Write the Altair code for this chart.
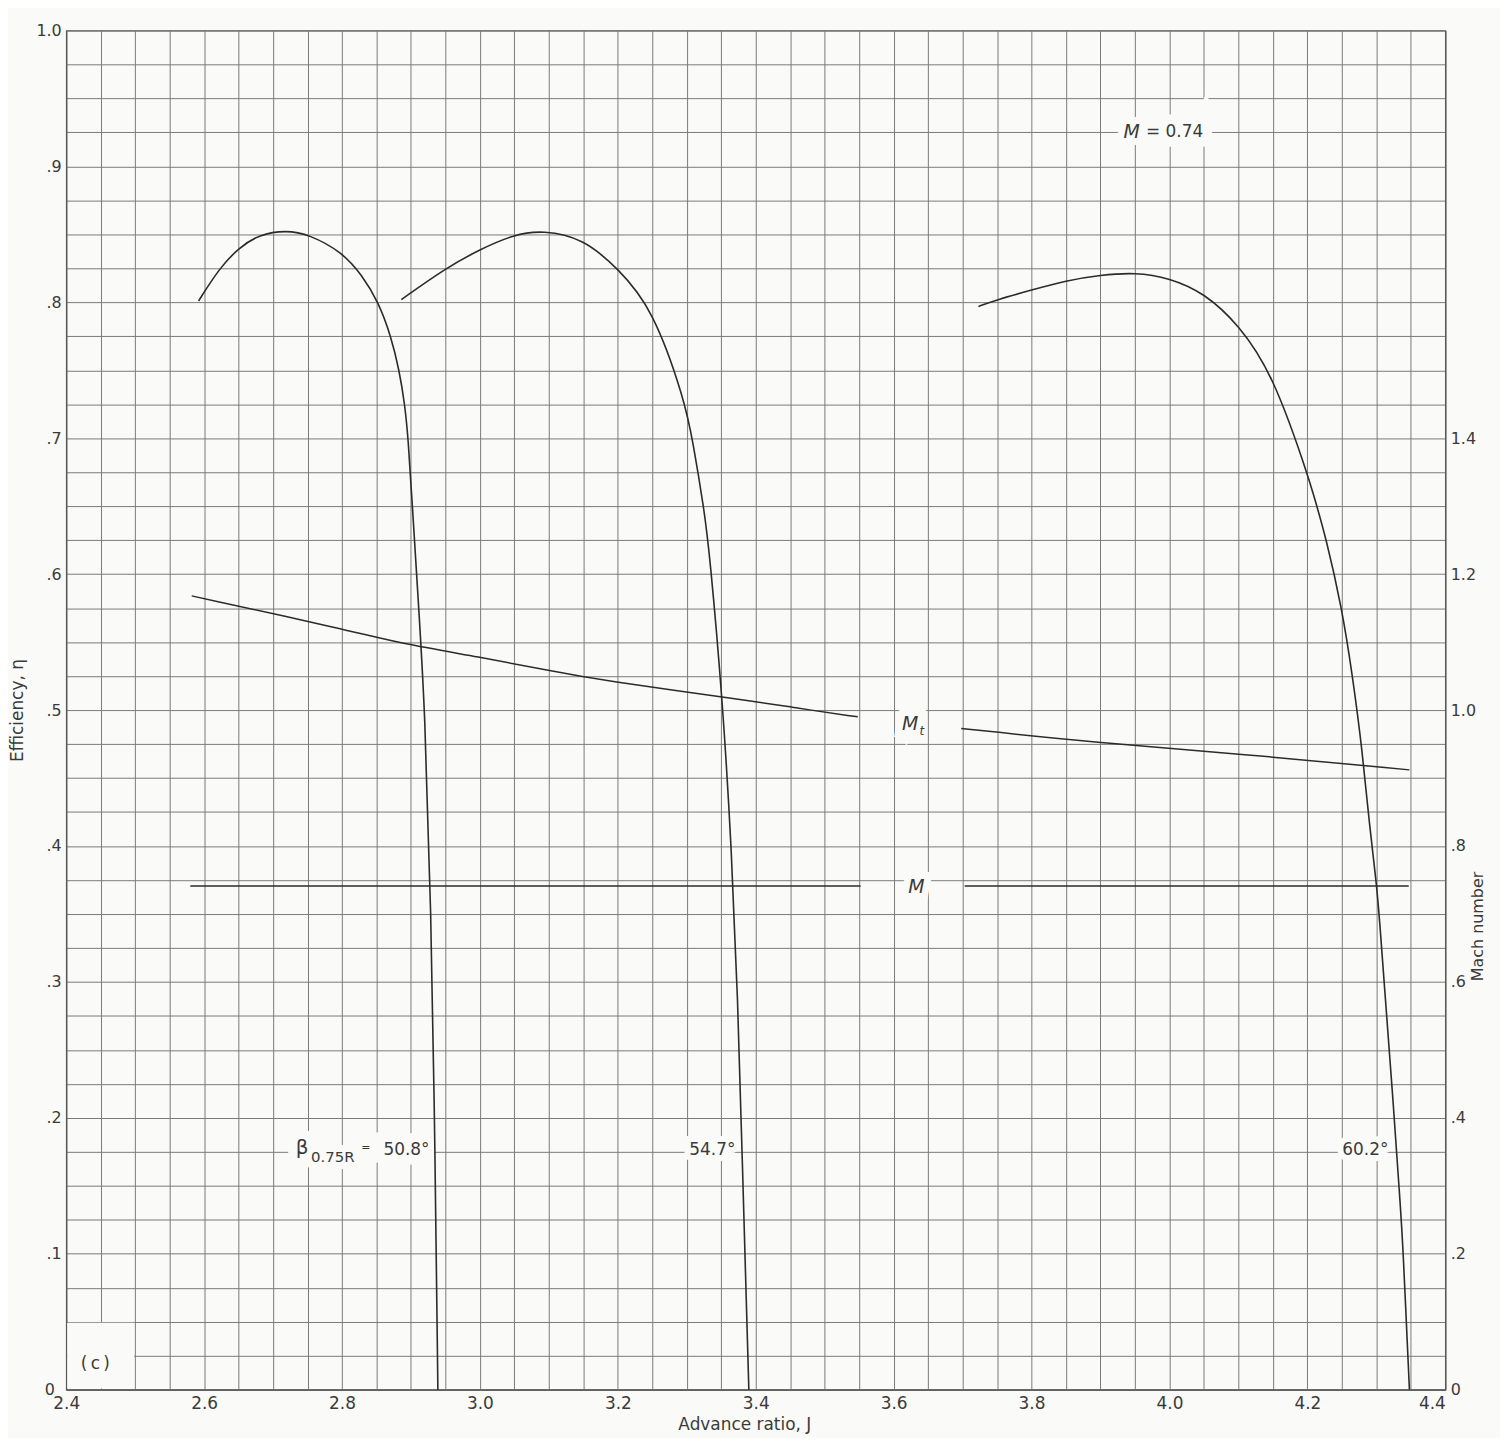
import altair as alt
import pandas as pd

# ---------------- data ----------------
# efficiency curves, blade angle beta(0.75R)
J_508 = [2.592, 2.622, 2.650, 2.680, 2.719, 2.752, 2.800, 2.829, 2.853, 2.871,
         2.883, 2.891, 2.896, 2.902, 2.911, 2.920, 2.929, 2.935, 2.939]
ETA_508 = [0.801, 0.825, 0.840, 0.850, 0.853, 0.850, 0.837, 0.820, 0.800, 0.775,
           0.750, 0.725, 0.700, 0.650, 0.577, 0.503, 0.357, 0.174, 0.0]

J_547 = [2.886, 2.950, 3.000, 3.050, 3.091, 3.150, 3.200, 3.250, 3.297,
         3.309, 3.325, 3.333, 3.352, 3.365, 3.374, 3.380, 3.390]
ETA_547 = [0.802, 0.825, 0.839, 0.850, 0.853, 0.847, 0.825, 0.796, 0.728,
           0.697, 0.648, 0.616, 0.507, 0.397, 0.287, 0.177, 0.0]

J_602 = [3.723, 3.750, 3.800, 3.850, 3.900, 3.950, 4.000, 4.050, 4.100,
         4.150, 4.200, 4.208, 4.227, 4.250, 4.265, 4.280, 4.290, 4.300,
         4.305, 4.312, 4.323, 4.335, 4.338, 4.348]
ETA_602 = [0.797, 0.802, 0.809, 0.816, 0.820, 0.822, 0.818, 0.807, 0.784,
           0.747, 0.674, 0.660, 0.627, 0.575, 0.527, 0.469, 0.415, 0.374,
           0.344, 0.295, 0.222, 0.134, 0.112, 0.0]

# tip Mach number (broken around its label)
J_MT_A = [2.582, 2.812, 2.884, 3.000, 3.102, 3.174, 3.392, 3.459, 3.548]
MACH_MT_A = [1.168, 1.117, 1.098, 1.078, 1.058, 1.044, 1.014, 1.003, 0.990]
J_MT_B = [3.698, 3.893, 4.110, 4.348]
MACH_MT_B = [0.973, 0.952, 0.935, 0.912]

# free-stream Mach number (broken around its label)
J_M_A = [2.580, 3.552]
MACH_M_A = [0.741, 0.741]
J_M_B = [3.703, 4.347]
MACH_M_B = [0.741, 0.741]

# axis ticks
X_GRID = [round(2.4 + 0.05 * i, 3) for i in range(41)]
Y_GRID = [round(0.025 * i, 4) for i in range(41)]
MACH_TICKS = [0, 0.2, 0.4, 0.6, 0.8, 1.0, 1.2, 1.4]

# annotations
LBL_CENTER_TEXT = ["54.7°", "60.2°", "(\u2009c\u2009)"]
LBL_CENTER_J = [3.337, 4.284, 2.4422]
LBL_CENTER_ETA = [0.1765, 0.1762, 0.019]

LBL_LEFT_TEXT = ["= 0.74", "β", "=", "50.8°"]
LBL_LEFT_J = [3.966, 2.733, 2.828, 2.860]
LBL_LEFT_ETA = [0.925, 0.1775, 0.1775, 0.1765]
LBL_LEFT_SIZE = [17, 20, 11, 17]

LBL_SUB_TEXT = ["0.75R"]
LBL_SUB_J = [2.755]
LBL_SUB_ETA = [0.171]

LBL_ITAL_TEXT = ["M", "M", "M"]
LBL_ITAL_J = [3.945, 3.624, 3.633]
LBL_ITAL_ETA = [0.925, 0.490, 0.3696]

LBL_T_TEXT = ["t"]
LBL_T_J = [3.641]
LBL_T_ETA = [0.4845]

BLANK_J = [2.4015]
BLANK_J2 = [2.4985]
BLANK_ETA = [0.0008]
BLANK_ETA2 = [0.0492]

# ---------------- tables ----------------
eff_rows = []
for name, js, es in [("50.8", J_508, ETA_508), ("54.7", J_547, ETA_547), ("60.2", J_602, ETA_602)]:
    for j, e in zip(js, es):
        eff_rows.append({"J": j, "eta": e, "curve": name})
eff_df = pd.DataFrame(eff_rows)

mach_rows = []
for name, js, ms in [("Mt_a", J_MT_A, MACH_MT_A), ("Mt_b", J_MT_B, MACH_MT_B),
                     ("M_a", J_M_A, MACH_M_A), ("M_b", J_M_B, MACH_M_B)]:
    for j, m in zip(js, ms):
        mach_rows.append({"J": j, "mach": m, "seg": name})
mach_df = pd.DataFrame(mach_rows)

center_df = pd.DataFrame({"text": LBL_CENTER_TEXT, "J": LBL_CENTER_J, "eta": LBL_CENTER_ETA})
left_df = pd.DataFrame({"text": LBL_LEFT_TEXT, "J": LBL_LEFT_J, "eta": LBL_LEFT_ETA, "size": LBL_LEFT_SIZE})
sub_df = pd.DataFrame({"text": LBL_SUB_TEXT, "J": LBL_SUB_J, "eta": LBL_SUB_ETA})
ital_df = pd.DataFrame({"text": LBL_ITAL_TEXT, "J": LBL_ITAL_J, "eta": LBL_ITAL_ETA})
t_df = pd.DataFrame({"text": LBL_T_TEXT, "J": LBL_T_J, "eta": LBL_T_ETA})
blank_df = pd.DataFrame({"J": BLANK_J, "J2": BLANK_J2, "eta": BLANK_ETA, "eta2": BLANK_ETA2})

# ---------------- styling ----------------
BG = "#fafaf8"
INK = "#2b2b2b"
TXT = "#3a3a3a"
GRID = "#7a7a7a"
FONT = "DejaVu Sans"

x_axis = alt.Axis(
    values=X_GRID,
    labelExpr="(round(datum.value*100) % 20 == 0) ? format(datum.value, '.1f') : ''",
    grid=True, gridColor=GRID, gridWidth=1, gridOpacity=1,
    ticks=False, domain=True, domainColor="#555", domainWidth=1.2,
    labelFont=FONT, labelFontSize=17, labelColor=TXT, labelPadding=6,
    labelFlush=False, labelOverlap=False,
    labelAlign={"condition": {"test": "datum.value > 4.39", "value": "right"}, "value": "center"},
    title="Advance ratio, J", titleFont=FONT, titleFontSize=17, titleFontWeight="normal",
    titleColor=TXT, titleX=681.5, titleY=35, titleBaseline="middle",
)
x_enc = alt.X("J:Q", scale=alt.Scale(domain=[2.4, 4.4], nice=False, zero=False), axis=x_axis)

eta_scale = alt.Scale(domain=[0, 1], nice=False, zero=False)
left_axis = alt.Axis(
    values=Y_GRID,
    labelExpr=("(round(datum.value*1000) % 100 == 0) ? (datum.value == 0 ? '0' : "
               "(datum.value >= 1 ? '1.0' : replace(format(datum.value, '.1f'), '0.', '.'))) : ''"),
    grid=True, gridColor=GRID, gridWidth=1, gridOpacity=1,
    ticks=False, domain=True, domainColor="#555", domainWidth=1.2,
    labelFont=FONT, labelFontSize=16, labelColor=TXT,
    labelPadding={"condition": {"test": "datum.value == 0", "value": 12}, "value": 5},
    labelOverlap=False,
    title="Efficiency, η", titleFont=FONT, titleFontSize=17, titleFontWeight="normal",
    titleColor=TXT, titleAngle=270, titleX=-48.5, titleBaseline="middle",
)
right_axis = alt.Axis(
    orient="right", values=MACH_TICKS,
    labelExpr=("datum.value == 0 ? '0' : (datum.value >= 1 ? format(datum.value, '.1f') : "
               "replace(format(datum.value, '.1f'), '0.', '.'))"),
    grid=False, ticks=False, domain=True, domainColor="#555", domainWidth=1.2,
    labelFont=FONT, labelFontSize=16, labelColor=TXT, labelPadding=5,
    labelOverlap=False,
    title="Mach number", titleFont=FONT, titleFontSize=16, titleFontWeight="normal",
    titleColor=TXT, titleAngle=270, titleX=32.5, titleY=900, titleBaseline="middle",
)

# ---------------- layers ----------------
blank = alt.Chart(blank_df).mark_rect(color=BG).encode(
    x=x_enc, x2="J2:Q",
    y=alt.Y("eta:Q", scale=eta_scale, axis=None), y2="eta2:Q",
)

eff_lines = alt.Chart(eff_df).mark_line(
    color=INK, strokeWidth=1.6, interpolate="basis"
).encode(
    x=x_enc, y=alt.Y("eta:Q", scale=eta_scale, axis=left_axis), detail="curve:N",
)

mach_lines = alt.Chart(mach_df).mark_line(
    color=INK, strokeWidth=1.5, interpolate="basis"
).encode(
    x=x_enc,
    y=alt.Y("mach:Q", scale=alt.Scale(domain=[0, 2], nice=False, zero=False), axis=right_axis),
    detail="seg:N",
)


def text_layer(df, align, size=None, italic=False, halo=0, size_field=False):
    props = dict(align=align, baseline="middle", font=FONT)
    if italic:
        props["fontStyle"] = "italic"
    if size is not None:
        props["fontSize"] = size
    enc = dict(x=x_enc, y=alt.Y("eta:Q", scale=eta_scale, axis=None), text="text:N")
    if size_field:
        enc["size"] = alt.Size("size:Q", scale=None, legend=None)
    if halo:
        return alt.Chart(df).mark_text(color=BG, stroke=BG, strokeWidth=halo, **props).encode(**enc)
    return alt.Chart(df).mark_text(color=TXT, **props).encode(**enc)


specs = [
    (center_df, "center", 17, False, False, 12),
    (left_df, "left", None, False, True, 19),
    (sub_df, "left", 15, False, False, 14),
    (ital_df, "center", 19, True, False, 14),
]
halos = [text_layer(d, a, s, i, halo=h, size_field=f) for d, a, s, i, f, h in specs]
texts = [text_layer(d, a, s, i, size_field=f) for d, a, s, i, f, h in specs]
texts.append(text_layer(t_df, "center", 12, True))

# halos mask only the grid; curves are drawn over them, texts on top
layers = [blank] + halos + [eff_lines, mach_lines] + texts

chart = alt.layer(*layers).resolve_scale(y="independent").properties(
    width=1386, height=1366,
    autosize=alt.AutoSizeParams(type="none"),
    padding={"left": 58.5, "top": 19, "right": 55, "bottom": 45},
    background=BG,
).configure_view(stroke="#555", strokeWidth=1.2)

chart.save("out.html", embed_options={"renderer": "svg", "actions": False})
